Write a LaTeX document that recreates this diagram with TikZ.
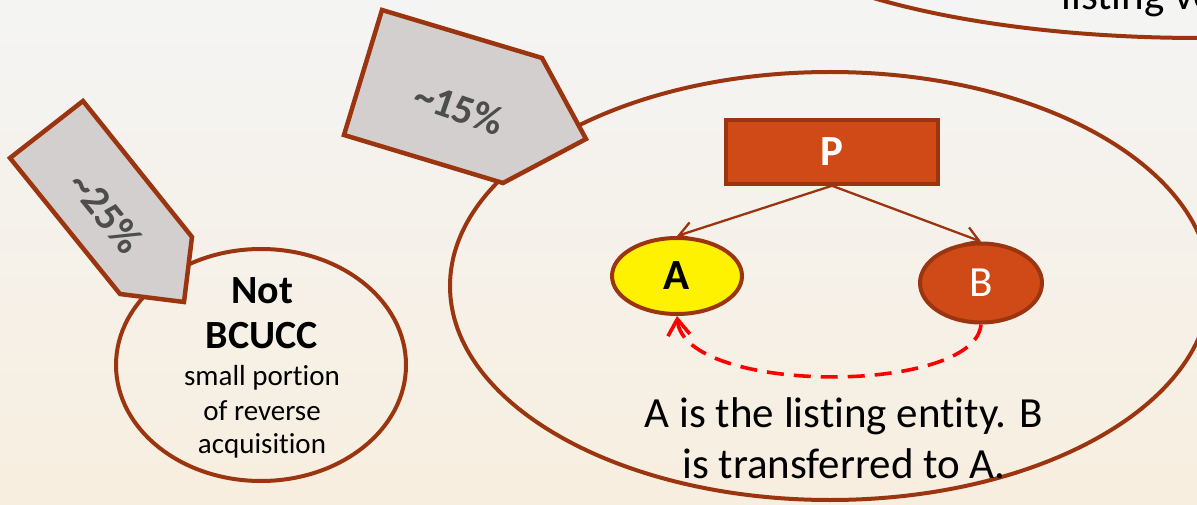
\documentclass[tikz,border=0pt]{standalone}
\usepackage{fontspec}
\setmainfont{Carlito}[Ligatures={NoCommon}]
\usetikzlibrary{arrows.meta,shapes.geometric}
\definecolor{bord}{RGB}{155,53,16}
\definecolor{pfill}{RGB}{208,74,23}
\definecolor{pent}{RGB}{211,207,207}
\definecolor{pct}{RGB}{77,77,77}
\definecolor{bgtop}{RGB}{244,244,244}
\definecolor{bgbot}{RGB}{247,238,223}
\definecolor{dashred}{RGB}{255,0,0}
\tikzset{
  ringell/.style={ellipse, draw=bord, line width=4pt, inner sep=0pt},
  pentbox/.style={draw=bord, fill=pent, line width=4.5pt, line join=miter},
  pcttext/.style={text=pct, font=\fontsize{41}{48}\selectfont\bfseries},
  bigtext/.style={font=\fontsize{43}{52}\selectfont},
  linkarrow/.style={draw=bord, line width=2.3pt, -{Straight Barb[length=14pt,width=18pt]}},
  moveline/.style={draw=dashred, line width=3.6pt, dash pattern=on 17pt off 10pt, -{Straight Barb[length=16pt,width=22pt]}},
}
\begin{document}
\begin{tikzpicture}[x=1pt,y=-1pt]
\useasboundingbox (0,0) rectangle (1197,505);
\shade[top color=bgtop,bottom color=bgbot] (0,0) rectangle (1197,505);
\clip (0,0) rectangle (1197,505);

% top-right partial ellipse
\node[ringell, minimum width=928pt, minimum height=276pt] (top) at (1200,-100) {};
\node[bigtext, anchor=base west] (toptext) at (1058,10) {listing ve};

% small ellipse
\node[ringell, minimum width=290pt, minimum height=232pt] (small) at (261,365) {};
\node[anchor=base, font=\fontsize{40}{46}\selectfont\bfseries] (s1) at (262,303) {Not};
\node[anchor=base, font=\fontsize{40}{46}\selectfont\bfseries] (s2) at (262,348) {BCUCC};
\node[anchor=base, font=\fontsize{29}{34}\selectfont] (s3) at (262,385) {small portion};
\node[anchor=base, font=\fontsize{29}{34}\selectfont] (s4) at (262,420) {of reverse};
\node[anchor=base, font=\fontsize{29}{34}\selectfont] (s5) at (262,453) {acquisition};

% big ellipse
\node[ringell, minimum width=760pt, minimum height=428pt] (outer) at (830,286) {};

% pentagon callouts
\draw[pentbox] (10,158) -- (83,101) -- (192,237) -- (184,302) -- (120,294) -- cycle;
\node[pcttext, rotate=-51] (p25) at (106,212) {\textasciitilde25\%};
\draw[pentbox] (382,10) -- (542,58) -- (586,139) -- (503,183) -- (344,135) -- cycle;
\node[pcttext, rotate=-19] (p15) at (459,108) {\textasciitilde15\%};

% P, A, B
\node[draw=bord, fill=pfill, line width=3.5pt, minimum width=212pt, minimum height=64pt, inner sep=0pt,
      text=white, font=\fontsize{43}{52}\selectfont\bfseries] (P) at (832,152) {P};
\node[ellipse, draw=bord, fill=yellow, line width=4pt, inner sep=0pt, minimum width=130pt, minimum height=76pt,
      font=\fontsize{43}{52}\selectfont\bfseries] (A) at (677,276) {A};
\node[ellipse, draw=bord, fill=pfill, line width=4pt, inner sep=0pt, minimum width=122pt, minimum height=79pt,
      text=white, font=\fontsize{43}{52}\selectfont] (B) at (981,283) {B};

\draw[linkarrow] (P.south) -- (A.north);
\draw[linkarrow] (P.south) -- (B.north);
\draw[moveline] (B.south) .. controls (975,395) and (685,395) .. (A.south);

\node[bigtext, anchor=base] (t1) at (844,427) {A is the listing entity. B};
\node[bigtext, anchor=base] (t2) at (844,478) {is transferred to A.};
\end{tikzpicture}
\end{document}
